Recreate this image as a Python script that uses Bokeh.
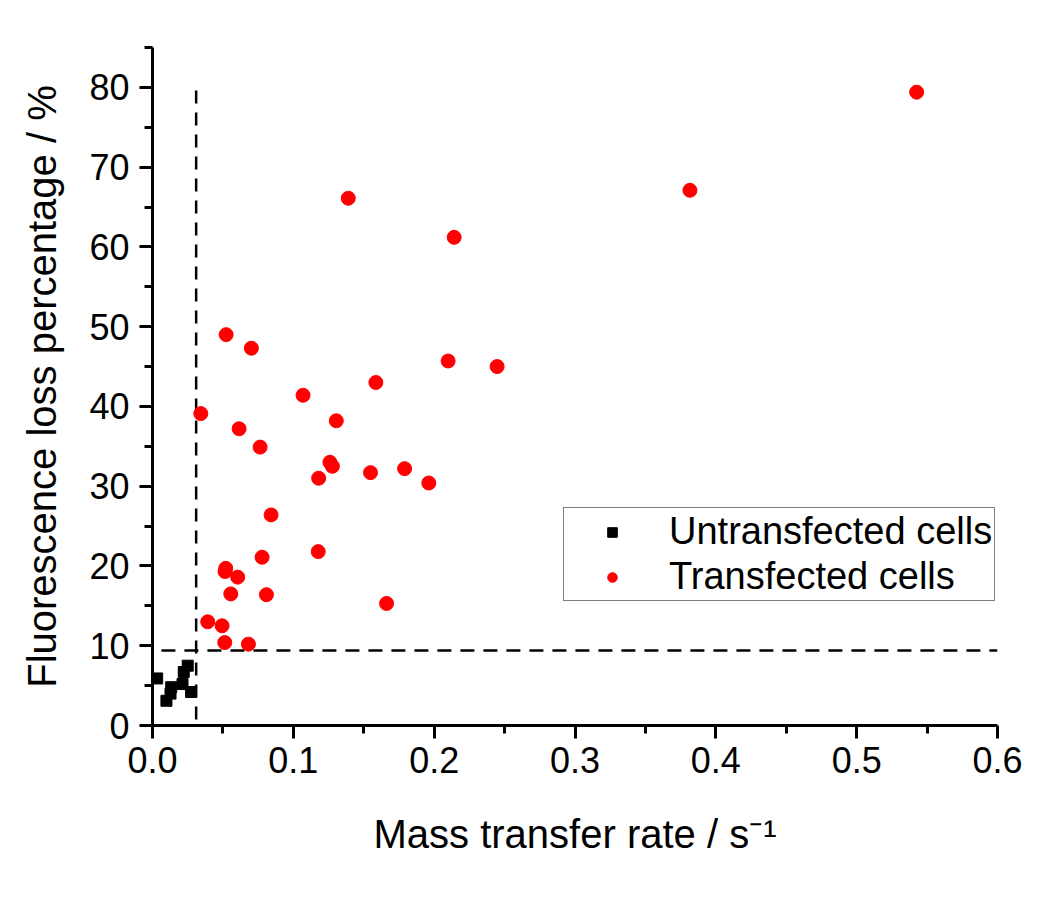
from bokeh.plotting import figure
from bokeh.models import FixedTicker, NumeralTickFormatter, Legend, LegendItem, Range1d
from bokeh.embed import file_html
from bokeh.resources import INLINE

# Untransfected cells (black squares)
untrans_x = [0.0033, 0.0099, 0.0128, 0.0133, 0.0213, 0.0222, 0.0250, 0.0274]
untrans_y = [5.9, 3.1, 4.0, 4.8, 5.2, 6.7, 7.5, 4.2]

# Transfected cells (red circles)
trans_x = [0.0523, 0.0702, 0.2099, 0.1586, 0.1069, 0.0343, 0.1305, 0.0615, 0.0764,
           0.1260, 0.1277, 0.1180, 0.1548, 0.1790, 0.1962, 0.0842, 0.1177, 0.0778,
           0.0520, 0.0515, 0.0605, 0.0556, 0.0809, 0.1662, 0.0392, 0.0494, 0.0513,
           0.0681, 0.1390, 0.2142, 0.2447, 0.3816, 0.5426]
trans_y = [49.0, 47.3, 45.7, 43.0, 41.4, 39.1, 38.2, 37.2, 34.9,
           33.0, 32.5, 31.0, 31.7, 32.2, 30.4, 26.4, 21.8, 21.1,
           19.7, 19.3, 18.6, 16.5, 16.4, 15.3, 13.0, 12.5, 10.4,
           10.2, 66.1, 61.2, 45.0, 67.1, 79.4]

# Threshold lines
vline_x = [0.031, 0.031]
vline_y = [-2, 80]
hline_x = [-0.01, 0.6]
hline_y = [9.4, 9.4]

x_ticks = [0.0, 0.1, 0.2, 0.3, 0.4, 0.5, 0.6]
y_ticks = [0, 10, 20, 30, 40, 50, 60, 70, 80]
x_minor = [0.05, 0.15, 0.25, 0.35, 0.45, 0.55]
y_minor = [5, 15, 25, 35, 45, 55, 65, 75, 85]

FONT = "Liberation Sans"

p = figure(width=1034, height=882, output_backend="svg", toolbar_location=None,
           x_range=Range1d(0, 0.6), y_range=Range1d(0, 85),
           min_border_left=152, min_border_right=37, min_border_top=47, min_border_bottom=157)
p.outline_line_color = None
p.xgrid.visible = False
p.ygrid.visible = False
p.background_fill_color = "white"

p.line(vline_x, vline_y, line_color="black", line_width=2.5, line_dash="13 9")
p.line(hline_x, hline_y, line_color="black", line_width=2.5, line_dash="14 9")

r1 = p.scatter(untrans_x, untrans_y, marker="square", size=11, fill_color="black", line_color="black")
r2 = p.scatter(trans_x, trans_y, marker="circle", size=14, fill_color="#ff0000", line_color="#ff0000")

for ax, ticks, minor in ((p.xaxis[0], x_ticks, x_minor), (p.yaxis[0], y_ticks, y_minor)):
    ax.ticker = FixedTicker(ticks=ticks, minor_ticks=minor)
    ax.axis_line_width = 3
    ax.major_tick_line_width = 3
    ax.minor_tick_line_width = 3
    ax.major_tick_in = 0
    ax.minor_tick_in = 0
    ax.major_tick_out = 13
    ax.minor_tick_out = 8
    ax.major_label_text_font = FONT
    ax.major_label_text_font_size = "36px"
    ax.major_label_text_color = "black"
    ax.axis_label_text_font = FONT
    ax.axis_label_text_font_size = "40px"
    ax.axis_label_text_font_style = "normal"
    ax.axis_label_text_color = "black"

p.xaxis[0].formatter = NumeralTickFormatter(format="0.0")
p.xaxis[0].axis_label = "Mass transfer rate / s⁻¹"
p.xaxis[0].major_label_standoff = 8
p.xaxis[0].axis_label_standoff = 36
p.yaxis[0].axis_label = "Fluorescence loss percentage / %"
p.yaxis[0].major_label_standoff = 10
p.yaxis[0].axis_label_standoff = 22

legend = Legend(items=[LegendItem(label="Untransfected cells", renderers=[r1]),
                       LegendItem(label="Transfected cells", renderers=[r2])],
                location=(411, 124))
legend.label_text_font = FONT
legend.label_text_font_size = "38px"
legend.label_text_color = "black"
legend.label_height = 40
legend.glyph_width = 92
legend.glyph_height = 24
legend.label_standoff = 11
legend.padding = 2
legend.spacing = 2
legend.margin = 0
legend.border_line_color = "black"
legend.border_line_width = 1.5
legend.background_fill_alpha = 1
p.add_layout(legend, "center")

open("out.html", "w").write(file_html(p, INLINE))
